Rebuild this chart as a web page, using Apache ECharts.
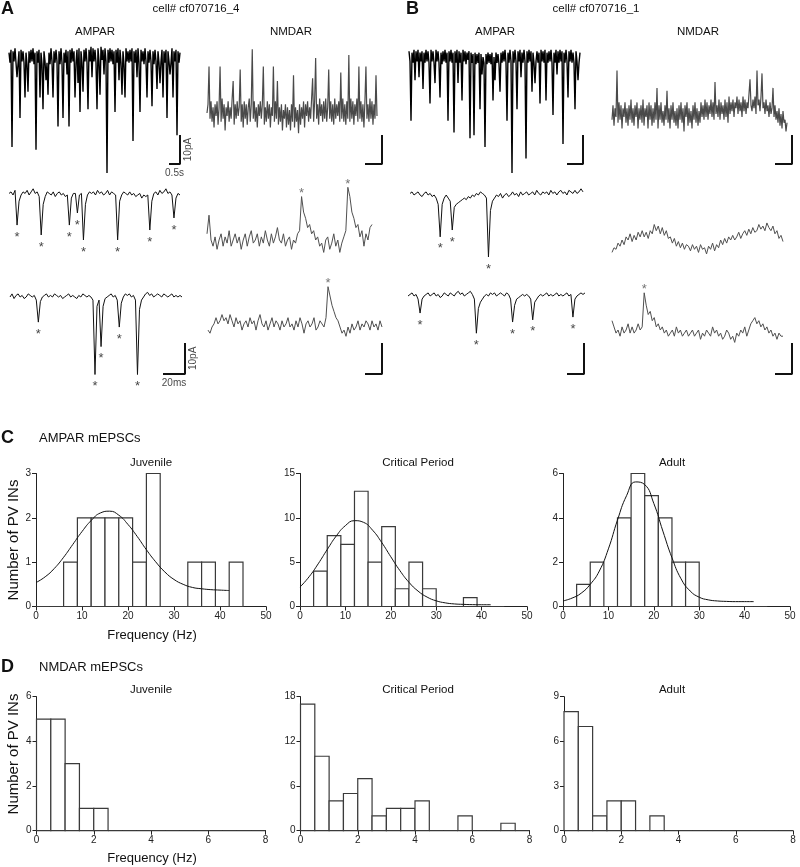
<!DOCTYPE html>
<html><head><meta charset="utf-8">
<script src="https://cdn.jsdelivr.net/npm/echarts/dist/echarts.min.js"></script>
<style>html,body{margin:0;padding:0;background:#fff}#c{width:800px;height:867px}</style>
</head><body><div id="c"></div>
<script>
// ---------- DATA ----------
// Panel A/B example traces (pA relative to baseline)
const A_AMPA_long = [1.5,-2,2.5,-31,2,-1.5,3,-2,-7,-2.5,2,-21,2.5,-1.5,2,-2,-14,1.5,-2.5,-12,
2,-2,2.5,-1.5,3,-2.5,1.5,-32,2,-2,2.5,-14,1.5,-2.5,-18,2,-1.5,-8,-2,-13,
1.5,-2.5,3,-1.5,-14,2,-2,2.5,-1.5,-24,2,-2.5,3,-2,-21,1.5,-2,2.5,-6,2,
-24,2.5,-2,3,-1.5,2,-14,-2,2.5,-9,3,-19,2,-2,-12,2.5,-1.5,3,-2,-18,
2.5,-1.5,3.5,-7,3,-1.5,2.5,-2,-18,3,-1.5,-13,3.5,-1,2.5,-6,3,-1.5,-40,2.5,
-2,3,-1.5,2.5,-2.5,2,-19,2.5,-2,3,-8,2.5,-2,-13,2,-2.5,-14,3,-1.5,2,
-2,2.5,-1.5,3,-29,2,-2,2.5,-7,3,-2,-19,2.5,-1.5,2,-2.5,3,-1.5,-14,2,
-2,2.5,-1.5,-17,2,-2.5,2.5,-1.5,-11,2,-2,-9,-1.5,2.5,-14,2,-2,2.5,-21,2,
-1.5,-6,-2,3,-14,2,-1.5,2.5,-27,2,-2,1.5];
const A_NMDA_long = [0,3,16,-2,4,-3,2,-5,3,-1,4,-4,2,16,-3,5,-2,3,-6,2,
-1,4,-3,2,-2,5,11,-4,3,-2,4,-1,2,15,-3,3,-5,4,-2,3,
-4,2,5,-3,3,22,-2,4,-3,2,-5,3,-1,4,-2,3,16,-4,2,-3,
4,-2,3,-5,2,-1,16,-3,4,-2,11,-4,2,-3,3,-6,1,-2,3,-5,
2,-4,1,-6,3,-3,13,-5,2,-3,1,-7,3,-4,2,-2,4,-5,3,-1,
4,-3,2,-2,5,12,-3,4,19,-2,3,-4,5,-1,3,-3,4,-2,5,-3,
2,15,-2,4,-3,3,-4,5,-2,3,-1,4,-3,14,-2,5,-3,3,-4,4,
-2,20,-3,5,-2,4,-4,3,-1,5,-3,16,-2,4,-3,3,-5,4,16,-2,
3,-3,5,-2,4,-4,3,-2,13,-1];
const B_AMPA_long = [2,-1.5,-22,1.5,-2,2.5,-8,2,-1.5,2.5,-7,1.5,-1.5,2,-11,1.5,-2,2.5,-1.5,2,
-2,-16,2.5,-1.5,2,-2,-9,2.5,-1.5,2,-2,-14,1.5,-2.5,2,-1.5,2.5,-2,1.5,-22,
2,-1.5,2.5,-2,1.5,-26,2,-2,2.5,-9,2,-2,1.5,-15,2.5,-1.5,2,-2.5,1.5,-1,
2,-28,1.5,-2,1,-27,1.5,-2.5,1,-2,1.5,-18,1,-6,0,-2,-31,1,-2.5,1.5,
-2,1,-2.5,1.5,-15,0,-8,1.5,-2,1,-2.5,-12,1.5,-2,2,-1.5,2.5,-2,-22,1.5,
-2,2.5,-1.5,-40,2,-2,2.5,-1.5,-18,2,-1.5,2.5,-7,1.5,-2,2.5,-1.5,-35,2,-2,
2.5,-1.5,2,-12,1.5,-2,-9,-1.5,2,-2,1.5,-16,2.5,-1.5,2,-2,2.5,-15,1.5,-2,
2,-1.5,2.5,-2,-20,1.5,-2,2.5,-6,2,-2,2.5,-1.5,2,-30,1.5,-2,2.5,-1.5,-14,
2,-1.5,2.5,-2,1.5,-2,-18,2,-1.5,-8,-2,1.5];
const B_NMDA_long = [-2,3,-4,2,-1,15,-3,4,-2,3,-5,2,-1,4,-3,2,-4,3,-2,5,
-3,2,-4,3,-1,4,-5,2,-2,3,-3,5,-4,2,-1,3,-5,4,-2,3,
-4,2,-3,4,-2,9,-5,3,-2,4,-3,1,-4,3,-2,8,-3,2,-5,3,
-2,4,-3,1,-4,2,-5,3,-2,4,-3,2,-6,3,-1,4,-4,2,-3,1,
-5,3,-2,4,-3,2,-4,1,-3,4,-1,3,-2,5,-1,4,-2,3,0,5,
-1,4,-2,11,0,3,-1,5,-2,4,0,3,-2,5,-1,4,-3,6,0,4,
1,5,-1,4,2,6,0,5,1,4,-1,6,1,5,0,4,2,7,12,3,
1,5,2,6,0,15,3,5,1,6,14,2,4,0,5,1,3,-1,4,0,
2,9,-1,3,-2,1,-3,2,-4,0,-5,1,-3,-2,-6,-3];

const A_AMPA_s1 = [0.5,1,0,1.5,-9.7,-2,0,1,0.5,1.5,0,1,2,0.5,1,-0.5,-12.9,-3,-0.5,1,
0.5,0,1,-0.5,0.5,1,0,0.5,-0.5,0,-9.7,-1,0.5,0.5,-5.8,0,0.5,-14.5,-3,0,
1,0.5,1,0,1.5,0.5,1,0,0.5,1.5,0,1,0.5,0,-14.5,-2,0,1,0.5,0,
1,0,0.5,-0.5,0,0.5,-1,0,-0.5,0,-11.3,-2,0.5,1,0,1.5,0.5,1,2,0.5,
1,0,-7.4,-1,0.5,0];
const A_AMPA_s1_events = [4,16,30,34,37,54,70,82];
const A_AMPA_s2 = [0,1,-0.5,0.5,1,0,0.5,-0.5,0,1,0.5,0,0.5,-1,-8.1,-1.5,0,0.5,1,0,
0.5,0,1,0.5,0,0.5,-0.5,0,0.5,1,0,0.5,0,-0.5,0.5,0,1,0.5,0,0.5,
0,-1,-25,-3,-1,-16,-3,-0.5,0,0.5,1,0,0.5,-1,-9.7,-2,0,1,0.5,1,
0,0.5,-1,-25,-4,-1,0,1,1.5,0.5,1,0,0.5,1,0.5,0,1,0.5,0,0.5,
1,0,0.5,0,0.5,0];
const A_AMPA_s2_events = [14,42,45,54,63];
const A_NMDA_s1 = [2,8,0,-2,1,-3,0,2,-2,1,-1,3,-2,0,2,-1,1,-3,0,2,
-2,1,3,-1,0,2,-2,1,-1,3,0,-2,2,-1,1,4,0,-1,2,-2,
0,1,-3,0,-1,2,3,14,9,7,4,5,2,3,0,1,-2,-1,-4,0,
1,-3,-1,2,-2,0,-4,-1,1,3,
17,14,9,7,4,5,1,3,-2,2,0,4,5];
const A_NMDA_s1_events = [47,70];
const A_NMDA_s2 = [-1,-2,0,1,3,1,2,4,2,3,1,4,2,0,3,1,2,-1,1,2,
0,3,1,2,-1,2,4,1,0,2,-1,1,3,0,2,1,-1,2,0,1,
3,0,1,-1,2,0,3,1,-2,1,2,0,1,3,-1,0,2,1,0,3,
13,10,7,5,3,2,0,-2,-1,-3,0,-2,1,-1,0,2,-1,1,0,2,
1,-1,2,0,1,-1,2,0];
const A_NMDA_s2_events = [60];
const B_AMPA_s1 = [0.5,1,0,0.5,1,0,-0.5,0.5,1,0,0.5,-0.5,0,-1,-3,-13.5,-3,-1,0,-1,
-2,-11.3,-4,-3,-2.5,-2,-1.5,-1,-1.5,-0.5,-1,0,-0.5,0.5,0,1,0.5,0,-1,-20,
-5,-2,-1,0,-0.5,0.5,-1,0,0.5,-0.5,0,1,0,0.5,-0.5,1,0,0.5,1,0,
0.5,1,0,1.5,0.5,0,1,0.5,1,0,1.5,0.5,1,0,1,1.5,0.5,1,0,1.5,
1,0.5,1.5,0.5,1,2,1];
const B_AMPA_s1_events = [15,21,39];
const B_AMPA_s2 = [0,0.5,1,0,0.5,-1,-5.5,-1,0,0.5,1,0,0.5,1,0,0.5,-0.5,0,1,0.5,
0,1,0.5,0,1,1.5,0.5,1,0,0.5,1,1.5,0.5,-1,-12,-4,-2,-1,0,0.5,
0,1,0.5,1,0,0.5,1,0.5,0,1,0.5,-1,-8.4,-3,-1,-0.5,0,0.5,0,0.5,
0,-1,-7.7,-2,-1,0,0.5,0,0.5,1,0,0.5,0,0.5,1,0,0.5,0,0.5,1,
0,0.5,-6.8,-1,0,0.5,1,0.5,1];
const B_AMPA_s2_events = [6,34,52,62,82];
const B_NMDA_s1 = [-4,-2.5,-3,-1,-2,0,-1.5,1,0,2,-0.5,1.5,0,2.5,1,3,1,2.5,0.5,3,
2,5,3,4.5,2,4,1.5,3,0.5,1,-1,0.5,-2,-0.5,-2.5,-1,-3,-1.5,-2,-3.5,
-1.5,-3,-2,-4,-1.5,-3,-2.5,-4.5,-2,-3,-1,-3.5,-1.5,-2.5,0,-1.5,0.5,-1,1,0,
1.5,0,1,2.5,0.5,2,3,1.5,3.5,2,4,2.5,3,5,3.5,4.5,3,5.5,4,3,
4.5,2,3,0.5,1.5,-0.5];
const B_NMDA_s2 = [3,1,-1,0,-2,1,-1,0,2,-1,1,-1,0,2,0,1,12,8,5,6,
3,4,1,2,0,1,-1,0,-2,-1,0,-2,1,-1,0,-2,-1,0,-2,-1,
0,-2,-1,0,-3,-1,-2,0,-1,-2,1,-1,0,-2,-1,-3,-2,0,-1,-3,
-2,-4,-1,-2,0,-1,1,-2,0,2,3,4,2,3,1,2,0,1,-1,0,
-2,-1,-3,-1,-2,-2];
const B_NMDA_s2_events = [16];

// Panel C: AMPAR mEPSC frequency histograms (bins of 3 Hz from 0 to 45)
const ampBinWidth = 3;
const ampJuvenile = [0,0,1,2,2,2,2,1,3,0,0,1,1,0,1];
const ampCritical = [0,4,8,7,13,5,9,2,5,2,0,0,1,0,0];
const ampAdult    = [0,1,2,0,4,6,5,4,2,2,0,0,0,0,0];
// Gaussian fit lines
const fitX = [0,2,4,6,8,10,12,14,16,18,20,22,24,26,28,30,32,34,36,38,40,42];
const fitJuvenile = [0.54,0.67,0.86,1.11,1.40,1.69,1.94,2.11,2.15,2.06,1.85,1.58,1.28,1.01,0.78,0.61,0.50,0.43,0.40,0.38,0.37,0.36];
const fitCritical = [2.19,3.35,4.81,6.43,7.96,9.12,9.68,9.49,8.60,7.22,5.61,4.05,2.73,1.74,1.06,0.64,0.41,0.29,0.24,0.21,0.20,0.20];
const fitAdult    = [0.25,0.38,0.60,1.00,1.60,2.60,3.90,5.00,5.62,5.50,4.65,3.40,2.20,1.25,0.70,0.42,0.30,0.25,0.23,0.22,0.22,0.22];

// Panel D: NMDAR mEPSC frequency histograms (bins of 0.5 Hz from 0 to 8)
const nmdaBinWidth = 0.5;
const nmdaJuvenile = [5,5,3,1,1,0,0,0,0,0,0,0,0,0,0,0];
const nmdaCritical = [17,10,4,5,7,2,3,3,4,0,0,2,0,0,1,0];
const nmdaAdult    = [8,7,1,2,2,0,1,0,0,0,0,0,0,0,0,0];

// ---------- BUILD ----------
const FONT = 'Arial, "Liberation Sans", Helvetica, sans-serif';
const grids = [], xAxes = [], yAxes = [], series = [];

function tracePanel(c) {
  const gi = grids.length;
  grids.push({left: c.left, top: c.baseY - c.yMax * c.ppy, width: c.width, height: (c.yMax - c.yMin) * c.ppy});
  xAxes.push({gridIndex: gi, type: 'value', min: 0, max: c.width / c.ppx, show: false});
  yAxes.push({gridIndex: gi, type: 'value', min: c.yMin, max: c.yMax, show: false});
  const dt = (c.traceW / c.ppx) / (c.values.length - 1);
  const pts = c.values.map((v, i) => [i * dt, v]);
  series.push({type: 'line', xAxisIndex: gi, yAxisIndex: gi, data: pts, symbol: 'none', clip: false, silent: true,
    lineStyle: {color: c.color, width: c.lw || 1}});
  if (c.events) {
    series.push({type: 'scatter', xAxisIndex: gi, yAxisIndex: gi, data: c.events.map(i => pts[i]), symbolSize: 1, silent: true,
      itemStyle: {color: 'transparent'},
      label: {show: true, formatter: '*', position: 'inside', offset: [0, c.starOffset], fontSize: 13, color: c.color, fontFamily: FONT}});
  }
  if (c.scale) {
    const s = c.scale, xe = s.endPx / c.ppx;
    series.push({type: 'line', xAxisIndex: gi, yAxisIndex: gi, symbol: 'none', clip: false, silent: true,
      data: [[xe - s.dx, s.y], [xe, s.y], [xe, s.y + s.dy]], lineStyle: {color: '#111', width: 2}});
    if (s.xLabel) {
      series.push({type: 'scatter', xAxisIndex: gi, yAxisIndex: gi, symbolSize: 1, silent: true, itemStyle: {color: 'transparent'},
        data: [[xe - s.dx / 2, s.y]],
        label: {show: true, formatter: s.xLabel, position: 'inside', offset: [0, 9], fontSize: 10, color: '#111', fontFamily: FONT}});
      series.push({type: 'scatter', xAxisIndex: gi, yAxisIndex: gi, symbolSize: 1, silent: true, itemStyle: {color: 'transparent'},
        data: [[xe, s.y + s.dy / 2]],
        label: {show: true, formatter: s.yLabel, position: 'inside', offset: [0, 8], rotate: 90, fontSize: 10, color: '#111', fontFamily: FONT}});
    }
  }
}

const black = '#111', gray = '#505050';
// A
tracePanel({left: 9, width: 173, traceW: 171, ppx: 22, baseY: 57, ppy: 2.9, yMin: -41, yMax: 7, values: A_AMPA_long, color: '#000', lw: 1.4,
  scale: {endPx: 171, y: -36.9, dx: 0.5, dy: 10, xLabel: '0.5s', yLabel: '10pA'}});
tracePanel({left: 207, width: 177, traceW: 170, ppx: 17, baseY: 113, ppy: 2.9, yMin: -19, yMax: 24, values: A_NMDA_long, color: '#4a4a4a', lw: 1.2,
  scale: {endPx: 175, y: -17.6, dx: 1, dy: 10}});
tracePanel({left: 9, width: 173, traceW: 171, ppx: 1.1, baseY: 195, ppy: 3.1, yMin: -17, yMax: 5, values: A_AMPA_s1, color: black,
  events: A_AMPA_s1_events, starOffset: 12});
tracePanel({left: 10, width: 177, traceW: 172, ppx: 1.1, baseY: 297, ppy: 3.1, yMin: -28, yMax: 5, values: A_AMPA_s2, color: black,
  events: A_AMPA_s2_events, starOffset: 12, scale: {endPx: 175, y: -24.8, dx: 20, dy: 10, xLabel: '20ms', yLabel: '10pA'}});
tracePanel({left: 207, width: 170, traceW: 165, ppx: 0.34, baseY: 240, ppy: 3.1, yMin: -6, yMax: 20, values: A_NMDA_s1, color: gray,
  events: A_NMDA_s1_events, starOffset: -3});
tracePanel({left: 208, width: 176, traceW: 174, ppx: 0.34, baseY: 327, ppy: 3.1, yMin: -17, yMax: 15, values: A_NMDA_s2, color: gray,
  events: A_NMDA_s2_events, starOffset: -3, scale: {endPx: 174, y: -15.2, dx: 50, dy: 10}});
// B
tracePanel({left: 409, width: 176, traceW: 171, ppx: 32, baseY: 57, ppy: 2.9, yMin: -41, yMax: 7, values: B_AMPA_long, color: '#000', lw: 1.4,
  scale: {endPx: 174, y: -36.9, dx: 0.5, dy: 10}});
tracePanel({left: 612, width: 182, traceW: 175, ppx: 17, baseY: 114, ppy: 2.9, yMin: -19, yMax: 24, values: B_NMDA_long, color: '#4a4a4a', lw: 1.2,
  scale: {endPx: 180, y: -17.2, dx: 1, dy: 10}});
tracePanel({left: 410, width: 175, traceW: 173, ppx: 0.85, baseY: 195, ppy: 3.1, yMin: -23, yMax: 5, values: B_AMPA_s1, color: black,
  events: B_AMPA_s1_events, starOffset: 12});
tracePanel({left: 408, width: 178, traceW: 177, ppx: 0.85, baseY: 296, ppy: 3.1, yMin: -27, yMax: 5, values: B_AMPA_s2, color: black,
  events: B_AMPA_s2_events, starOffset: 12, scale: {endPx: 176, y: -25.2, dx: 20, dy: 10}});
tracePanel({left: 612, width: 173, traceW: 171, ppx: 0.34, baseY: 240, ppy: 3.1, yMin: -8, yMax: 8, values: B_NMDA_s1, color: gray});
tracePanel({left: 612, width: 182, traceW: 171, ppx: 0.34, baseY: 330, ppy: 3.1, yMin: -15, yMax: 14, values: B_NMDA_s2, color: gray,
  events: B_NMDA_s2_events, starOffset: -3, scale: {endPx: 180, y: -14.2, dx: 50, dy: 10}});

function histPanel(c) {
  const gi = grids.length;
  grids.push({left: c.left, top: c.top, width: c.width, height: c.height});
  const axisCommon = {
    axisLine: {show: true, lineStyle: {color: '#222', width: 1}},
    axisTick: {show: true, length: 4, lineStyle: {color: '#222'}},
    axisLabel: {fontSize: 10, color: '#222', fontFamily: FONT, margin: 5},
    splitLine: {show: false}
  };
  xAxes.push(Object.assign({gridIndex: gi, type: 'value', min: 0, max: c.xMax, interval: c.xInt}, axisCommon));
  yAxes.push(Object.assign({gridIndex: gi, type: 'value', min: 0, max: c.yMax, interval: c.yInt}, axisCommon));
  series.push({type: 'custom', xAxisIndex: gi, yAxisIndex: gi, silent: true, clip: false,
    data: c.counts.map((n, i) => [i * c.bw, (i + 1) * c.bw, n]),
    encode: {x: [0, 1], y: 2},
    renderItem: (params, api) => {
      const p0 = api.coord([api.value(0), 0]);
      const p1 = api.coord([api.value(1), api.value(2)]);
      return {type: 'rect', shape: {x: p0[0], y: p1[1], width: p1[0] - p0[0], height: p0[1] - p1[1]},
        style: {fill: '#fff', stroke: '#3a3a3a', lineWidth: 1.2}};
    }});
  if (c.fit) {
    series.push({type: 'line', xAxisIndex: gi, yAxisIndex: gi, smooth: true, symbol: 'none', silent: true,
      data: fitX.map((x, i) => [x, c.fit[i]]), lineStyle: {color: '#111', width: 1}});
  }
}
histPanel({left: 36, top: 473.5, width: 230, height: 133, xMax: 50, xInt: 10, yMax: 3, yInt: 1, counts: ampJuvenile, bw: ampBinWidth, fit: fitJuvenile});
histPanel({left: 300, top: 473.5, width: 227, height: 133, xMax: 50, xInt: 10, yMax: 15, yInt: 5, counts: ampCritical, bw: ampBinWidth, fit: fitCritical});
histPanel({left: 563, top: 473.5, width: 227, height: 133, xMax: 50, xInt: 10, yMax: 6, yInt: 2, counts: ampAdult, bw: ampBinWidth, fit: fitAdult});
histPanel({left: 36.5, top: 696.7, width: 229, height: 134, xMax: 8, xInt: 2, yMax: 6, yInt: 2, counts: nmdaJuvenile, bw: nmdaBinWidth});
histPanel({left: 300.5, top: 696.7, width: 229, height: 134, xMax: 8, xInt: 2, yMax: 18, yInt: 6, counts: nmdaCritical, bw: nmdaBinWidth});
histPanel({left: 564, top: 696.7, width: 229, height: 134, xMax: 8, xInt: 2, yMax: 9, yInt: 3, counts: nmdaAdult, bw: nmdaBinWidth});

function txt(str, x, y, size, o = {}) {
  return {type: 'text', x: x, y: y, rotation: o.rot || 0, silent: true,
    style: {text: str, fill: '#111', font: (o.bold ? 'bold ' : '') + size + 'px ' + FONT,
      align: o.align || 'center', verticalAlign: 'middle'}};
}
const graphics = [
  txt('A', 1, 9, 18, {bold: true, align: 'left'}),
  txt('cell# cf070716_4', 196, 9, 11.5),
  txt('AMPAR', 95, 32, 11.5), txt('NMDAR', 291, 32, 11.5),
  txt('B', 406, 9, 18, {bold: true, align: 'left'}),
  txt('cell# cf070716_1', 596, 9, 11.5),
  txt('AMPAR', 495, 32, 11.5), txt('NMDAR', 698, 32, 11.5),
  txt('C', 1, 438, 18, {bold: true, align: 'left'}),
  txt('AMPAR mEPSCs', 39, 438, 13, {align: 'left'}),
  txt('Juvenile', 151, 463, 11.5), txt('Critical Period', 418, 463, 11.5), txt('Adult', 672, 463, 11.5),
  txt('Frequency (Hz)', 152, 635, 13),
  txt('Number of PV INs', 14, 540, 15, {rot: Math.PI / 2}),
  txt('D', 1, 667, 18, {bold: true, align: 'left'}),
  txt('NMDAR mEPSCs', 39, 667, 13, {align: 'left'}),
  txt('Juvenile', 151, 690, 11.5), txt('Critical Period', 418, 690, 11.5), txt('Adult', 672, 690, 11.5),
  txt('Frequency (Hz)', 152, 858, 13),
  txt('Number of PV INs', 14, 754, 15, {rot: Math.PI / 2})
];

const chart = echarts.init(document.getElementById('c'), null, {renderer: 'canvas'});
chart.setOption({
  animation: false,
  backgroundColor: '#fff',
  textStyle: {fontFamily: FONT},
  grid: grids, xAxis: xAxes, yAxis: yAxes, series: series, graphic: graphics
});
</script></body></html>
